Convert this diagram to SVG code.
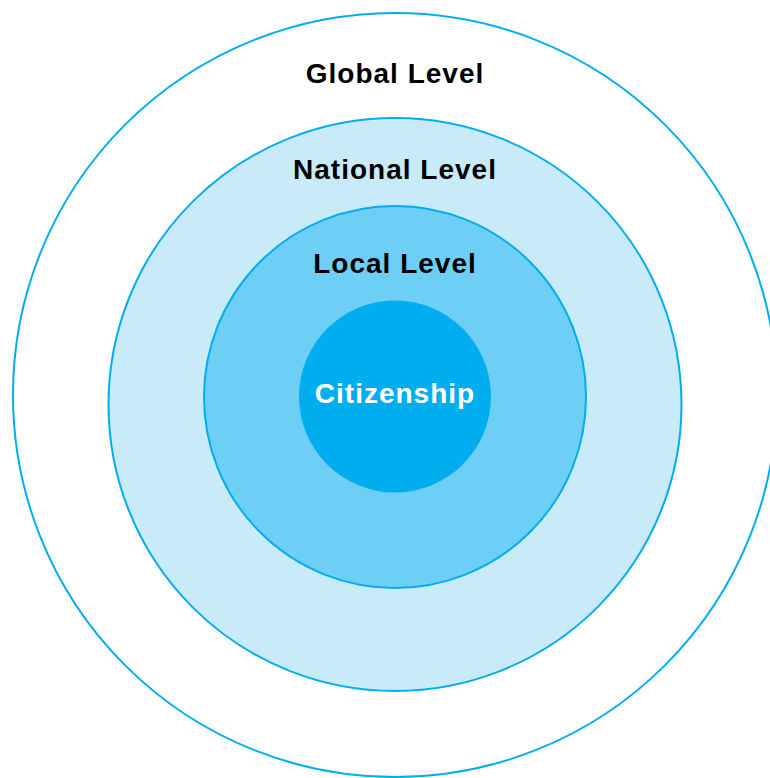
<svg xmlns="http://www.w3.org/2000/svg" width="770" height="778" viewBox="0 0 770 778">
<style>
.ring{stroke:#00AEEF;stroke-width:2}
.lbl{font-family:"Liberation Sans",Arial,sans-serif;font-weight:bold;font-size:28px;letter-spacing:1px;text-anchor:middle;fill:#000}
.core{fill:#fff}
</style>
<rect width="770" height="778" fill="#fff"/>
<g id="global">
<circle class="ring" cx="395" cy="395" r="382" fill="#fff"/>
<text class="lbl" x="395" y="83">Global Level</text>
</g>
<g id="national">
<circle class="ring" cx="395" cy="404.5" r="286.5" fill="#C8EAF9"/>
<text class="lbl" x="395" y="179">National Level</text>
</g>
<g id="local">
<circle class="ring" cx="395" cy="397" r="191" fill="#6DCFF6"/>
<text class="lbl" x="395" y="273">Local Level</text>
</g>
<g id="citizenship">
<circle cx="395" cy="396.5" r="96" fill="#00AEEF"/>
<text class="lbl core" x="395" y="403">Citizenship</text>
</g>
<g id="connectors"/>
</svg>
